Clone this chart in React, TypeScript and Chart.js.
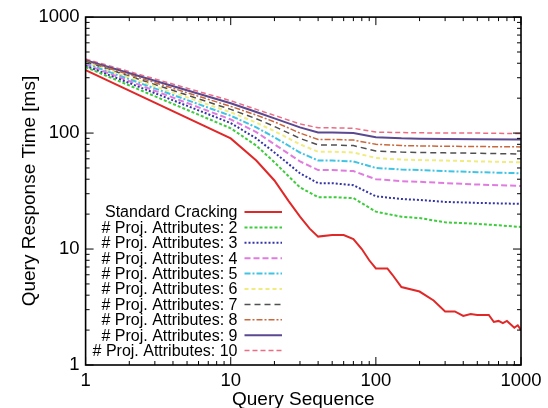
import React, { useEffect, useRef } from "react";
import { Chart, registerables } from "chart.js";

Chart.register(...registerables);

// X positions (query sequence numbers)
const xsMain = [1, 10, 15, 20, 30, 40, 50, 70, 100, 150, 200, 300, 500, 1000];
const xsRed = [1, 10, 15, 20, 25, 30, 35, 40, 50, 60, 70, 80, 90, 100, 120, 130, 150, 200, 250, 300, 350, 400, 450, 500, 600, 650, 700, 750, 800, 900, 950, 1000];

// Series values (ms)
const standardCracking = [349, 90, 58, 39, 26, 19, 15, 12.8, 13.2, 13.2, 12.2, 10, 8, 6.8, 6.8, 6, 4.7, 4.3, 3.6, 2.9, 2.9, 2.65, 2.75, 2.7, 2.7, 2.35, 2.4, 2.3, 2.4, 2.1, 2.2, 2.0];
const attr2 = [371, 110, 78, 56, 34, 28, 28, 27.5, 21, 19, 18.5, 17, 16.5, 15.5];
const attr3 = [380, 122, 90, 68, 45, 37, 37, 35.5, 28.5, 27, 26.5, 25.5, 25, 24.5];
const attr4 = [390, 131, 102, 80, 57, 48, 48, 47, 40, 38.5, 38, 37, 36, 35];
const attr5 = [398, 141, 112, 92, 68, 58, 58, 57, 50, 48.5, 48, 47, 46, 45];
const attr6 = [405, 151, 123, 104, 80, 69, 69, 68, 61, 59, 58.5, 58, 57, 56];
const attr7 = [412, 160, 133, 114, 90, 79, 79, 78, 70, 68.5, 68, 67.5, 67, 66];
const attr8 = [418, 170, 143, 125, 100, 88, 88, 87, 80, 78, 77.5, 77, 76.5, 76];
const attr9 = [425, 181, 152, 134, 112, 101, 101, 100, 92, 90, 89.5, 89, 88.5, 88];
const attr10 = [435, 190, 160, 142, 120, 111, 111, 110, 102, 101, 100.5, 100, 100, 99];

const seriesLabels = [
  "Standard Cracking",
  "# Proj. Attributes: 2",
  "# Proj. Attributes: 3",
  "# Proj. Attributes: 4",
  "# Proj. Attributes: 5",
  "# Proj. Attributes: 6",
  "# Proj. Attributes: 7",
  "# Proj. Attributes: 8",
  "# Proj. Attributes: 9",
  "# Proj. Attributes: 10",
];
const majorTicks = [1, 10, 100, 1000];

const FONT = "'Liberation Sans', Arial, Helvetica, sans-serif";

const styles = [
  { color: "#e02828", dash: [] as number[], width: 2 },
  { color: "#3ccc3c", dash: [3, 2], width: 2 },
  { color: "#3434a8", dash: [2, 2], width: 2 },
  { color: "#e07ce0", dash: [6, 3], width: 2 },
  { color: "#40c4e4", dash: [6, 2, 2, 2], width: 2 },
  { color: "#f0ec80", dash: [4, 3], width: 2 },
  { color: "#505050", dash: [6, 4], width: 1.5 },
  { color: "#c8683c", dash: [6, 2, 2, 2], width: 1.5 },
  { color: "#5a4890", dash: [], width: 2 },
  { color: "#ec6c84", dash: [5, 3], width: 1.5 },
];

const seriesData = [standardCracking, attr2, attr3, attr4, attr5, attr6, attr7, attr8, attr9, attr10];

const framePlugin = {
  id: "frame",
  afterDatasetsDraw(chart: any) {
    const { ctx, chartArea } = chart;
    const { left, right, top, bottom } = chartArea;
    const xs = chart.scales.x;
    const ys = chart.scales.y;
    ctx.save();
    ctx.strokeStyle = "#000";
    ctx.lineWidth = 1;
    ctx.setLineDash([]);
    // minor + major ticks
    ctx.beginPath();
    for (let d = 1; d <= 1000; d *= 10) {
      for (let m = 1; m <= 9; m++) {
        const v = d * m;
        if (v > 1000) break;
        const len = m === 1 ? 8 : 4;
        const px = xs.getPixelForValue(v);
        ctx.moveTo(px, bottom);
        ctx.lineTo(px, bottom - len);
        ctx.moveTo(px, top);
        ctx.lineTo(px, top + len);
        const py = ys.getPixelForValue(v);
        ctx.moveTo(left, py);
        ctx.lineTo(left + len, py);
        ctx.moveTo(right, py);
        ctx.lineTo(right - len, py);
      }
    }
    ctx.stroke();
    ctx.lineWidth = 1.6;
    ctx.strokeRect(left, top, right - left, bottom - top);

    // legend
    const textRight = 237.5;
    const lineStart = 244.5;
    const lineEnd = 282;
    const y0 = 212;
    const step = 15.4;
    ctx.font = `16px ${FONT}`;
    ctx.textAlign = "right";
    ctx.textBaseline = "middle";
    ctx.fillStyle = "#000";
    seriesLabels.forEach((label, i) => {
      const y = y0 + i * step;
      ctx.fillText(label, textRight, y + 1);
      const s = styles[i];
      ctx.beginPath();
      ctx.strokeStyle = s.color;
      ctx.lineWidth = s.width;
      ctx.setLineDash(s.dash);
      ctx.moveTo(lineStart, y);
      ctx.lineTo(lineEnd, y);
      ctx.stroke();
    });
    ctx.restore();
  },
};

export default function App() {
  const ref = useRef<HTMLCanvasElement | null>(null);
  useEffect(() => {
    document.body.style.margin = "0";
    const canvas = ref.current!;
    const datasets = seriesData.map((vals, i) => {
      const xs = i === 0 ? xsRed : xsMain;
      return {
        label: seriesLabels[i],
        data: vals.map((v, j) => ({ x: xs[j], y: v })),
        borderColor: styles[i].color,
        borderDash: styles[i].dash,
        borderWidth: styles[i].width,
        pointRadius: 0,
        tension: 0,
        fill: false,
      };
    });
    const chart = new Chart(canvas, {
      type: "line",
      data: { datasets },
      plugins: [framePlugin],
      options: {
        responsive: false,
        animation: false,
        layout: { padding: { left: 0, right: 27, top: 16.7, bottom: 0 } },
        plugins: { legend: { display: false }, tooltip: { enabled: false } },
        scales: {
          x: {
            type: "logarithmic",
            min: 1,
            max: 1000,
            grid: { display: false, drawTicks: false },
            border: { display: false },
            afterFit: (s: any) => {
              s.height = 43;
            },
            afterBuildTicks: (s: any) => {
              s.ticks = majorTicks.map((v) => ({ value: v }));
            },
            ticks: {
              autoSkip: false,
              maxRotation: 0,
              padding: 5,
              color: "#000",
              font: { family: FONT, size: 18.5 },
              callback: (v: any) => String(v),
            },
            title: {
              display: true,
              text: "Query Sequence",
              color: "#000",
              font: { family: FONT, size: 19, lineHeight: 1 },
              padding: { top: 0, bottom: -1.5 },
            },
          },
          y: {
            type: "logarithmic",
            min: 1,
            max: 1000,
            grid: { display: false, drawTicks: false },
            border: { display: false },
            afterFit: (s: any) => {
              s.width = 85.6;
            },
            afterBuildTicks: (s: any) => {
              s.ticks = majorTicks.map((v) => ({ value: v }));
            },
            ticks: {
              autoSkip: false,
              padding: 6,
              color: "#000",
              font: { family: FONT, size: 18.5 },
              callback: (v: any) => String(v),
            },
            title: {
              display: true,
              text: "Query Response Time [ms]",
              color: "#000",
              font: { family: FONT, size: 19, lineHeight: 1.2 },
              padding: { top: 18.3, bottom: 0 },
            },
          },
        },
      },
    } as any);
    return () => chart.destroy();
  }, []);
  return <canvas ref={ref} width={548} height={408} style={{ display: "block" }} />;
}
